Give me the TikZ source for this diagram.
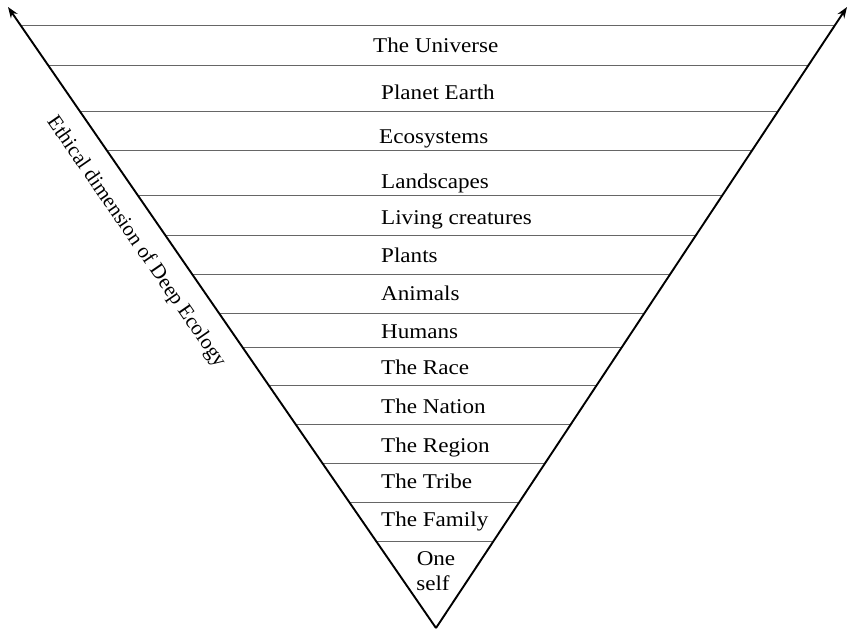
\documentclass[tikz,border=0pt]{standalone}
\usepackage{fontspec}
\setmainfont{Liberation Serif}
\newfontfamily\labfont{Liberation Serif}[FakeStretch=1.1]
\usetikzlibrary{calc,arrows.meta}
\tikzset{
  arm/.style={line width=1.9pt, black, -{Stealth[length=11pt,width=8pt]}},
  band/.style={line width=0.9pt, black!60},
  lab/.style={font=\labfont\fontsize{21}{24}\selectfont, inner sep=0pt},
  dimlab/.style={font=\fontsize{21}{24}\selectfont, inner sep=0pt}
}
\begin{document}
\begin{tikzpicture}[x=1pt,y=-1pt]
\useasboundingbox (0,0) rectangle (848,630);
\coordinate (apex) at (436,628);
\coordinate (ltip) at (8,7);
\coordinate (rtip) at (847,7);
% separating lines between the levels
\foreach \yy [count=\i] in {25,65,111,150,195,235,274,313,347,385,424,463,502,541}{
  \coordinate (l\i) at ($(apex)!{(628-\yy)/621}!(ltip)$);
  \coordinate (r\i) at ($(apex)!{(628-\yy)/621}!(rtip)$);
  \draw[band] (l\i) -- (r\i);
}
% the two arms of the V
\draw[arm] (apex) -- (ltip);
\draw[arm] (apex) -- (rtip);
% level labels
\node[lab, anchor=base west] (t1) at (373,52) {The Universe};
\node[lab, anchor=base west] (t2) at (381,99) {Planet Earth};
\node[lab, anchor=base west] (t3) at (379,143) {Ecosystems};
\node[lab, anchor=base west] (t4) at (381,188) {Landscapes};
\node[lab, anchor=base west] (t5) at (381,224) {Living creatures};
\node[lab, anchor=base west] (t6) at (381,262) {Plants};
\node[lab, anchor=base west] (t7) at (381,300) {Animals};
\node[lab, anchor=base west] (t8) at (381,338) {Humans};
\node[lab, anchor=base west] (t9) at (381,374) {The Race};
\node[lab, anchor=base west] (t10) at (381,413) {The Nation};
\node[lab, anchor=base west] (t11) at (381,452) {The Region};
\node[lab, anchor=base west] (t12) at (381,488) {The Tribe};
\node[lab, anchor=base west] (t13) at (381,526) {The Family};
\node[lab, anchor=base] (t14) at (436,565) {One};
\node[lab, anchor=base] (t15) at (433,590) {self};
% axis label along the left arm
\node[dimlab, rotate=-55.4] (dim) at (136,242) {Ethical dimension of Deep Ecology};
\end{tikzpicture}
\end{document}
